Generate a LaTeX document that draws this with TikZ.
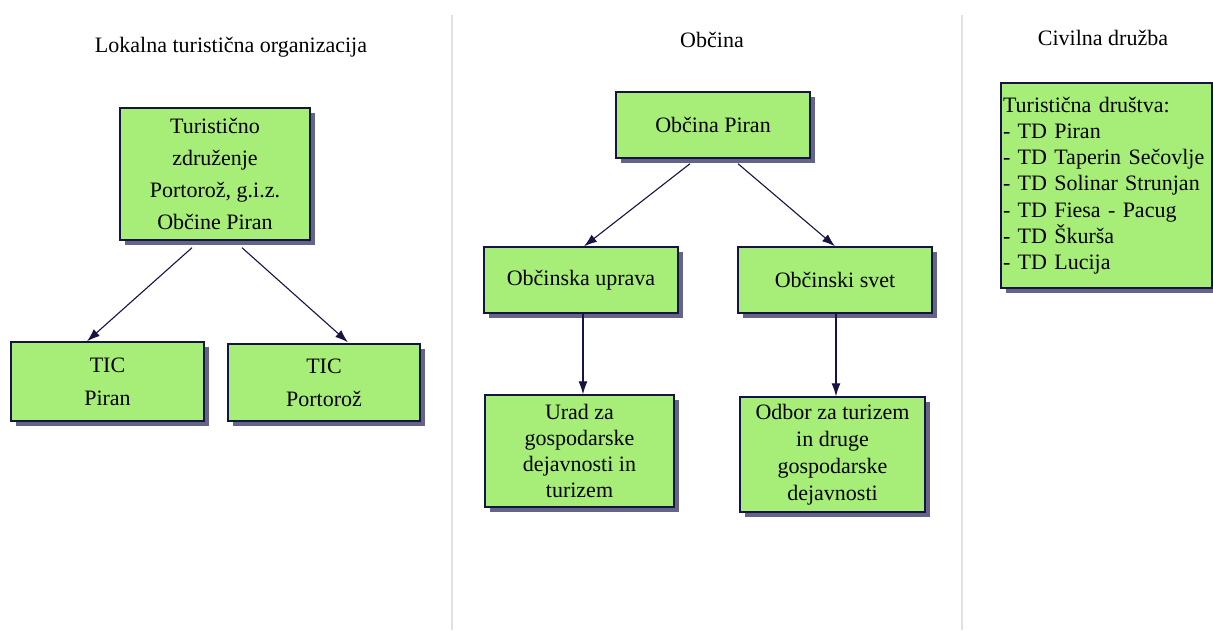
\documentclass[tikz,border=0pt]{standalone}
\usepackage{fontspec}
\setmainfont{Liberation Serif}
\usetikzlibrary{arrows.meta,shadows}
\definecolor{boxfill}{RGB}{166,238,119}
\definecolor{boxline}{RGB}{20,20,70}
\definecolor{shadowc}{RGB}{100,100,135}
\definecolor{sepc}{RGB}{225,225,225}
\begin{document}
\begin{tikzpicture}[x=1pt,y=-1pt,
  orgbox/.style={draw=boxline,line width=1.4pt,fill=boxfill,inner sep=0pt,align=center,
    drop shadow={shadow xshift=5pt,shadow yshift=-5pt,fill=shadowc,opacity=1},
    font=\fontsize{22}{26}\selectfont},
  title/.style={font=\fontsize{22}{26}\selectfont,inner sep=0pt},
  conn/.style={draw=boxline,line width=1.1pt,-{Latex[length=13pt,width=9pt]}},
  sep/.style={draw=sepc,line width=2pt}]
\useasboundingbox (0,0) rectangle (1213,630);
\fill[white] (0,0) rectangle (1213,630);
% separators
\coordinate (s1t) at (452,15); \coordinate (s1b) at (452,630);
\coordinate (s2t) at (962,15); \coordinate (s2b) at (962,630);
\draw[sep] (s1t) -- (s1b);
\draw[sep] (s2t) -- (s2b);
% titles
\node[title] (t1) at (231,47) {Lokalna turistična organizacija};
\node[title] (t2) at (712,40) {Občina};
\node[title] (t3) at (1103,38) {Civilna družba};
% left column
\node[orgbox,minimum width=190pt,minimum height=132pt,font=\fontsize{22}{32}\selectfont] (tz) at (215,174)
  {Turistično\\združenje\\Portorož, g.i.z.\\Občine Piran};
\node[orgbox,minimum width=193pt,minimum height=79pt,font=\fontsize{22}{33}\selectfont] (ticp) at (107.5,381.5) {TIC\\Piran};
\node[orgbox,minimum width=192pt,minimum height=77pt,font=\fontsize{22}{33}\selectfont] (tico) at (324,382.5) {TIC\\Portorož};
% middle column
\node[orgbox,minimum width=194pt,minimum height=66pt] (op) at (713,125) {Občina Piran};
\node[orgbox,minimum width=194pt,minimum height=66pt] (ou) at (581,280) {Občinska uprava};
\node[orgbox,minimum width=194pt,minimum height=66pt] (os) at (835,280) {Občinski svet};
\node[orgbox,minimum width=189pt,minimum height=112pt,font=\fontsize{22}{25.7}\selectfont] (urad) at (579.5,451)
  {Urad za\\gospodarske\\dejavnosti in\\turizem};
\node[orgbox,minimum width=185pt,minimum height=115pt,font=\fontsize{22}{27}\selectfont] (odbor) at (832.5,454.5)
  {Odbor za turizem\\in druge\\gospodarske\\dejavnosti};
% right column
\node[orgbox,minimum width=211pt,minimum height=205pt,inner xsep=2pt,text width=207pt,align=left,font=\fontsize{22}{26.2}\selectfont] (civ) at (1106.5,185.5)
  {Turistična društva:\\- TD Piran\\- TD Taperin Sečovlje\\- TD Solinar Strunjan\\- TD Fiesa - Pacug\\- TD Škurša\\- TD Lucija};
% connectors
\draw[conn] ([xshift=-23pt,yshift=-7pt]tz.south) -- ([xshift=-20.5pt]ticp.north);
\draw[conn] ([xshift=27pt,yshift=-7pt]tz.south) -- ([xshift=24pt,yshift=1pt]tico.north);
\draw[conn] ([xshift=-23pt,yshift=-5pt]op.south) -- ([xshift=3pt]ou.north);
\draw[conn] ([xshift=25pt,yshift=-5pt]op.south) -- (os.north);
\draw[conn] ([xshift=2pt]ou.south) -- ([xshift=3.5pt]urad.north);
\draw[conn] ([xshift=1pt]os.south) -- ([xshift=3.5pt]odbor.north);
\end{tikzpicture}
\end{document}
